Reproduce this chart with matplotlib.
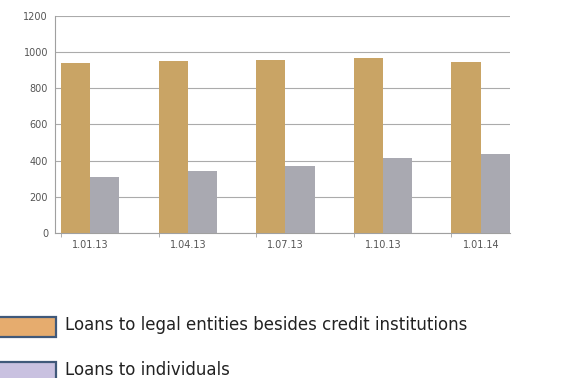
import matplotlib.pyplot as plt
import numpy as np
from matplotlib.patches import Rectangle

dates = ["1.01.13", "1.04.13", "1.07.13", "1.10.13", "1.01.14"]
legal_entities = [940, 950, 955, 970, 945]
individuals = [310, 345, 370, 415, 435]
series_names = ["Loans to legal entities besides credit institutions",
                "Loans to individuals"]

bar_colors = ["#C9A465", "#A9A9B1"]
key_colors = ["#E6AC6E", "#C9C1E0"]
key_edge = "#40597A"

fig = plt.figure(figsize=(5.63, 3.78), dpi=100)
ax = fig.add_axes([0.0977, 0.3836, 0.8083, 0.5741])

x = np.arange(len(dates))
w = 0.30
ax.bar(x - w / 2, legal_entities, w, color=bar_colors[0], zorder=3)
ax.bar(x + w / 2, individuals, w, color=bar_colors[1], zorder=3)

ax.set_xlim(-0.36, 4.30)
ax.set_ylim(0, 1200)
ax.set_yticks(np.arange(0, 1201, 200))
ax.set_xticks(x)
ax.set_xticklabels(dates)
ax.set_xticks(x - w, minor=True)

ax.grid(axis="y", color="#ABABAB", linewidth=0.8, zorder=0)
for s in ["top", "right"]:
    ax.spines[s].set_visible(False)
for s in ["left", "bottom"]:
    ax.spines[s].set_color("#A0A0A0")
    ax.spines[s].set_linewidth(0.8)
ax.tick_params(axis="both", which="major", length=0, labelsize=7,
               labelcolor="#555555", pad=5)
ax.tick_params(axis="x", which="minor", length=3, color="#A0A0A0")

# series key below the chart, partly running off the left edge
fw, fh = 563, 378
for i, (name, y0) in enumerate(zip(series_names, [317, 362])):
    fig.patches.append(Rectangle((-5 / fw, 1 - (y0 + 20) / fh), 61 / fw, 20 / fh,
                                 transform=fig.transFigure, facecolor=key_colors[i],
                                 edgecolor=key_edge, linewidth=1.6))
    fig.text(65 / fw, 1 - (y0 + 8) / fh, name, fontsize=12, color="#222222",
             va="center", ha="left")

fig.savefig("out.png", dpi=100)
